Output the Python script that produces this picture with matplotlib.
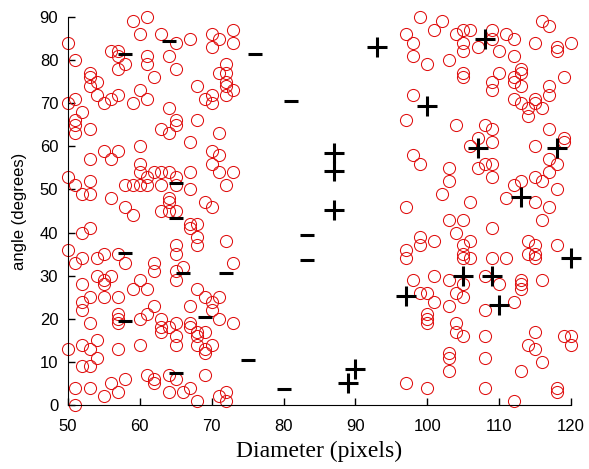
import matplotlib
matplotlib.use('Agg')
from matplotlib import pyplot as plt

# red circles: left group (small diameters)
left_diam = [59, 61, 60, 63, 65, 67, 70, 70, 71, 73, 73,
             50, 51, 56, 57, 57, 57, 58, 61, 61, 64, 65, 62,
             53, 53, 53, 54, 54, 55, 56, 57, 59, 60, 61,
             50, 51, 52, 51, 51, 51, 53,
             64, 65, 65, 63, 64, 68, 68, 67, 69, 70, 70,
             71, 72, 72, 72, 72, 73, 72, 71,
             55, 57, 60, 56, 53, 60,
             60, 61, 62, 63, 64, 65, 67,
             70, 71, 70, 71, 73, 72, 67,
             58, 59, 60, 61, 63, 65,
             50, 51, 52, 53, 53, 56, 58, 59,
             64, 64, 63, 64, 65, 69, 70,
             67, 68, 67, 68, 68, 72, 52, 53,
             50, 51, 52, 54, 55, 57, 58, 65, 65, 62, 66, 73,
             62, 65, 65,
             54, 55, 55, 56, 52, 52, 52, 53, 55, 57, 59, 60, 61,
             68, 69, 70, 70, 71, 67,
             62, 61, 60, 57, 57, 57, 53,
             63, 63, 63, 64, 65, 65, 65,
             67, 67, 68, 68, 69, 68, 70, 69, 69, 69, 71, 73,
             60, 57, 50, 52, 53, 54, 54, 52, 53,
             51, 53, 55, 56, 58, 57,
             61, 62, 62, 64, 65, 64, 66, 67, 68, 71, 72, 72, 51]
left_angle = [89, 90, 86, 86, 84, 85, 86, 83, 85, 87, 84,
              84, 80, 82, 82, 81, 78, 79, 81, 79, 81, 78, 76,
              77, 76, 74, 75, 72, 70, 71, 72, 70, 73, 71,
              70, 71, 68, 66, 65, 63, 64,
              69, 66, 65, 64, 63, 74, 66, 61, 71, 72, 70,
              77, 79, 77, 75, 74, 73, 72, 63,
              59, 59, 60, 57, 57, 56,
              54, 53, 54, 54, 54, 53, 54,
              59, 58, 56, 54, 54, 51, 50,
              51, 51, 51, 51, 51, 51,
              53, 51, 49, 49, 52, 48, 46, 44,
              48, 47, 45, 45, 45, 47, 46,
              42, 42, 41, 39, 37, 38, 40, 41,
              36, 33, 34, 34, 35, 35, 33, 37, 35, 33, 32, 33,
              31, 31, 29,
              30, 29, 28, 30, 28, 24, 22, 25, 25, 25, 27, 29, 27,
              27, 25, 24, 22, 25, 23,
              23, 21, 20, 21, 20, 19, 19,
              20, 18, 17, 18, 16, 14, 19,
              19, 18, 17, 16, 17, 14, 14, 13, 12, 7, 20, 19,
              14, 13, 13, 14, 13, 15, 11, 9, 9,
              4, 4, 2, 5, 6, 3,
              7, 6, 5, 7, 6, 3, 3, 4, 1, 2, 3, 1, 0]

# red circles: right group (large diameters)
right_diam = [99, 97, 98, 98, 101, 102, 100, 103,
              104, 105, 106, 105, 105, 105, 105, 107,
              109, 109, 110, 111, 112, 112, 110,
              109, 109, 112, 112, 113, 113, 113,
              112, 113, 114, 114, 115, 115, 116,
              115, 116, 117, 118, 118, 120, 119, 117, 117,
              98, 97, 104, 108, 109, 107, 109, 117, 119, 119,
              106, 115,
              98, 99, 103, 103, 102, 107, 108, 109, 109,
              115, 116, 117, 118, 118, 117, 112, 113, 111, 115, 117, 116,
              97, 106, 103, 105, 104, 109,
              99, 99, 101, 97, 97, 105, 105, 105, 106, 106, 109, 111,
              114, 115, 114, 115, 115, 118,
              98, 101, 103, 105, 108, 110, 113, 113, 113, 116,
              99, 100, 101, 103, 104, 105, 108, 112,
              100, 100, 100, 104,
              104, 105, 108, 108, 103, 103, 103, 97, 100, 108, 112,
              115, 114, 115, 116, 113, 119, 120, 120, 118, 118]
right_angle = [90, 86, 84, 81, 87, 89, 79, 80,
               86, 87, 87, 84, 82, 77, 76, 83,
               87, 85, 82, 86, 85, 81, 77,
               75, 73, 76, 75, 78, 77, 74,
               71, 70, 69, 67, 71, 70, 69,
               84, 89, 88, 83, 82, 84, 76, 74, 72,
               72, 66, 65, 65, 64, 62, 61, 64, 62, 61,
               60, 60,
               58, 56, 55, 52, 49, 55, 56, 56, 53,
               53, 52, 54, 56, 50, 57, 51, 52, 48, 47, 46, 43,
               46, 47, 43, 43, 40, 41,
               39, 37, 38, 36, 34, 37, 35, 34, 38, 34, 34, 34,
               38, 37, 35, 35, 34, 37,
               29, 30, 29, 28, 30, 28, 29, 28, 27, 29,
               26, 26, 24, 23, 26, 25, 22, 24,
               21, 20, 19, 19,
               17, 16, 16, 11, 12, 11, 8, 5, 4, 4, 1,
               17, 14, 13, 10, 8, 16, 16, 14, 4, 3]

# black dashes
minus_diam = [58, 64, 65, 65, 58, 66, 72, 58, 69, 65, 76, 81, 83.3, 83.3, 75, 80]
minus_angle = [81.5, 84.5, 51.6, 43.3, 35.3, 30.6, 30.6, 19.5, 20.5, 7.4,
               81.5, 70.4, 39.5, 33.6, 10.4, 3.6]

# black crosses
plus_diam = [93, 87, 87, 87, 90, 89, 108, 100, 107, 118, 113, 120, 105, 109, 97, 110]
plus_angle = [83, 58.5, 54.3, 45.2, 8.4, 5.2, 85, 69.4, 59.5, 59.5, 48.2, 34, 30, 30, 25.3, 23.3]

fig = plt.figure(figsize=(5.89, 4.69), dpi=100)
ax = fig.add_axes([68 / 589, 1 - 405 / 469, (571 - 68) / 589, (405 - 17) / 469])

for d, a in ((left_diam, left_angle), (right_diam, right_angle)):
    ax.plot(d, a, linestyle='none', marker='o', markersize=8.7, markerfacecolor='none',
            markeredgecolor='#e01010', markeredgewidth=0.75, clip_on=False)
ax.plot(minus_diam, minus_angle, linestyle='none', marker='_', markersize=10,
        markeredgewidth=2.2, color='k', clip_on=False)
ax.plot(plus_diam, plus_angle, linestyle='none', marker='+', markersize=14,
        markeredgewidth=2.2, color='k', clip_on=False)

ax.set_xlim(50, 120)
ax.set_ylim(0, 90)
ax.set_xticks(range(50, 121, 10))
ax.set_yticks(range(0, 91, 10))
ax.spines['top'].set_visible(False)
ax.spines['right'].set_visible(False)
ax.tick_params(direction='in', length=5, width=1, labelsize=12)
ax.tick_params(axis='x', pad=10)
ax.tick_params(axis='y', pad=7)
for lab in ax.get_xticklabels() + ax.get_yticklabels():
    lab.set_family('Liberation Sans')
ax.set_ylabel('angle (degrees)', family='Liberation Sans', fontsize=12, labelpad=9)
ax.set_xlabel('Diameter (pixels)', family='Liberation Serif', fontsize=17, labelpad=5)

fig.savefig('out.png', dpi=100)
